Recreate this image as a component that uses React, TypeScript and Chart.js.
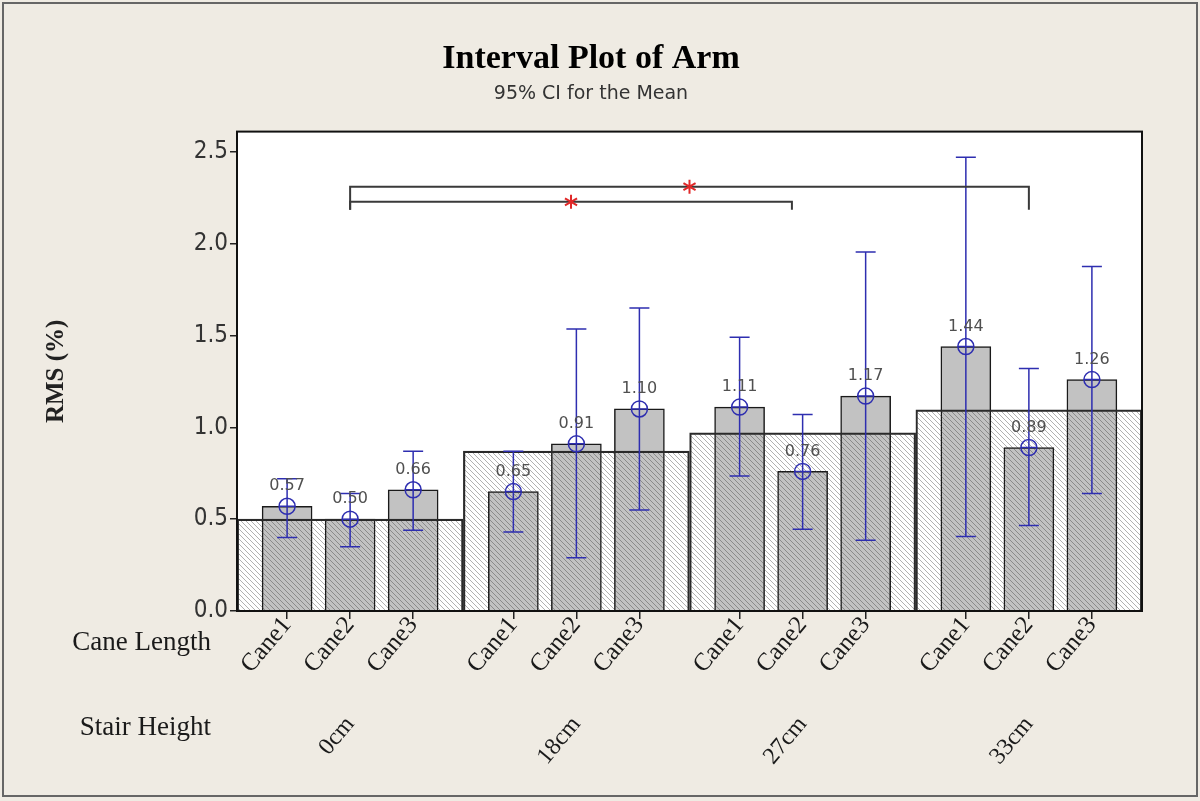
import React, { useEffect, useRef } from 'react';
import { Chart, registerables } from 'chart.js';

Chart.register(...registerables);

// ---------- data ----------
const stairHeights = ['0cm', '18cm', '27cm', '33cm'];
const caneLengths = ['Cane1', 'Cane2', 'Cane3'];
const meanValues = [0.57, 0.50, 0.66, 0.65, 0.91, 1.10, 1.11, 0.76, 1.17, 1.44, 0.89, 1.26];
const ciLower = [0.40, 0.35, 0.44, 0.43, 0.29, 0.55, 0.735, 0.445, 0.385, 0.405, 0.465, 0.64];
const ciUpper = [0.72, 0.64, 0.87, 0.87, 1.535, 1.65, 1.49, 1.07, 1.955, 2.47, 1.32, 1.875];
const stairMeans = [0.50, 0.87, 0.97, 1.095];
const yTicks = [0, 0.5, 1.0, 1.5, 2.0, 2.5];
const yMax = 2.61;
// significance brackets (bar index from / to, height)
const bracketFrom = [1, 1];
const bracketTo = [10, 7];
const bracketLevel = [2.31, 2.228];

// ---------- layout helpers ----------
const GROUP_SPAN = 3.59;
const xPositions = stairHeights.flatMap((_, g) => caneLengths.map((__, c) => g * GROUP_SPAN + c));
const groupCenters = stairHeights.map((_, g) => g * GROUP_SPAN + 1);
const xMin = 1 - GROUP_SPAN / 2;
const xMax = (stairHeights.length - 1) * GROUP_SPAN + 1 + GROUP_SPAN / 2;
const bracketEndShift = [0, -0.17];

const SERIF = "'Liberation Serif', 'Times New Roman', serif";
const NARROW = "'Liberation Sans Narrow', 'DejaVu Sans Condensed', 'Liberation Sans', sans-serif";
const BLUE = '#2e2eb0';

export default function App() {
  const ref = useRef<HTMLCanvasElement>(null);

  useEffect(() => {
    document.body.style.margin = '0';
    const canvas = ref.current!;
    const pc = document.createElement('canvas');
    const s = 5;
    pc.width = s;
    pc.height = s;
    const pctx = pc.getContext('2d')!;
    pctx.strokeStyle = 'rgba(50,50,50,0.38)';
    pctx.lineWidth = 1;
    for (const k of [-1, 0, 1]) {
      pctx.beginPath();
      pctx.moveTo(k * s, 0);
      pctx.lineTo(k * s + s, s);
      pctx.stroke();
    }
    const hatch = canvas.getContext('2d')!.createPattern(pc, 'repeat')!;

    const decor = {
      id: 'decor',
      beforeDraw(chart: any) {
        const { ctx, chartArea: a } = chart;
        ctx.save();
        ctx.fillStyle = '#efebe3';
        ctx.fillRect(0, 0, chart.width, chart.height);
        ctx.fillStyle = '#ffffff';
        ctx.fillRect(a.left, a.top, a.right - a.left, a.bottom - a.top);
        ctx.restore();
      },
      afterDatasetsDraw(chart: any) {
        const { ctx, chartArea: a } = chart;
        const xs = chart.scales.x;
        const ys = chart.scales.y;
        ctx.save();
        // error bars + means
        meanValues.forEach((m, i) => {
          const px = xs.getPixelForValue(xPositions[i]);
          const pm = ys.getPixelForValue(m);
          const pl = ys.getPixelForValue(ciLower[i]);
          const pu = ys.getPixelForValue(ciUpper[i]);
          ctx.strokeStyle = BLUE;
          ctx.lineWidth = 1.5;
          ctx.beginPath();
          ctx.moveTo(px, pu);
          ctx.lineTo(px, pl);
          ctx.moveTo(px - 10, pu);
          ctx.lineTo(px + 10, pu);
          ctx.moveTo(px - 10, pl);
          ctx.lineTo(px + 10, pl);
          ctx.moveTo(px - 8, pm);
          ctx.lineTo(px + 8, pm);
          ctx.stroke();
          ctx.beginPath();
          ctx.arc(px, pm, 8, 0, Math.PI * 2);
          ctx.stroke();
          ctx.fillStyle = '#505050';
          ctx.font = "16px 'DejaVu Sans', sans-serif";
          ctx.textAlign = 'center';
          ctx.textBaseline = 'middle';
          ctx.fillText(m.toFixed(2), px, pm - 20);
        });
        // significance brackets
        bracketFrom.forEach((f, k) => {
          const x1 = xs.getPixelForValue(xPositions[f]);
          const x2 = xs.getPixelForValue(xPositions[bracketTo[k]] + bracketEndShift[k]);
          const yl = ys.getPixelForValue(bracketLevel[k]);
          const yb = ys.getPixelForValue(2.184);
          ctx.strokeStyle = '#3a3a3a';
          ctx.lineWidth = 2;
          ctx.beginPath();
          ctx.moveTo(x1, yb);
          ctx.lineTo(x1, yl);
          ctx.lineTo(x2, yl);
          ctx.lineTo(x2, yb);
          ctx.stroke();
          const cx = (x1 + x2) / 2;
          ctx.strokeStyle = '#e02828';
          ctx.lineWidth = 2;
          ctx.beginPath();
          for (const ang of [90, 30, 150]) {
            const r = (ang * Math.PI) / 180;
            ctx.moveTo(cx - 7 * Math.cos(r), yl - 7 * Math.sin(r));
            ctx.lineTo(cx + 7 * Math.cos(r), yl + 7 * Math.sin(r));
          }
          ctx.stroke();
        });
        // plot frame
        ctx.strokeStyle = '#111';
        ctx.lineWidth = 2;
        ctx.strokeRect(a.left, a.top, a.right - a.left, a.bottom - a.top);
        ctx.restore();
      },
      afterDraw(chart: any) {
        const { ctx, chartArea: a } = chart;
        ctx.save();
        ctx.fillStyle = '#1a1a1a';
        ctx.font = `27px ${SERIF}`;
        ctx.textAlign = 'right';
        ctx.textBaseline = 'middle';
        ctx.fillText('Cane Length', a.left - 26, chart.scales.x.top + 32);
        ctx.fillText('Stair Height', a.left - 26, chart.scales.x2.top + 22);
        ctx.strokeStyle = '#666';
        ctx.lineWidth = 2;
        ctx.strokeRect(3, 3, chart.width - 6, chart.height - 8);
        ctx.restore();
      },
    };

    const chart = new Chart(canvas, {
      type: 'bar',
      data: {
        datasets: [
          {
            label: 'Stair Height',
            data: stairMeans.map((v, g) => ({ x: groupCenters[g], y: v })),
            backgroundColor: hatch,
            borderColor: '#2a2a2a',
            borderWidth: 1.5,
            barThickness: 226,
            grouped: false,
            order: 0,
          },
          {
            label: 'Cane Length',
            data: meanValues.map((v, i) => ({ x: xPositions[i], y: v })),
            backgroundColor: '#c2c2c2',
            borderColor: '#1a1a1a',
            borderWidth: 1.5,
            barThickness: 50,
            grouped: false,
            order: 1,
          },
        ] as any,
      },
      plugins: [decor],
      options: {
        animation: false,
        responsive: false,
        devicePixelRatio: 1,
        layout: { padding: { left: 40, right: 58, top: 0, bottom: 20 } },
        plugins: {
          legend: { display: false },
          tooltip: { enabled: false },
          title: {
            display: true,
            text: 'Interval Plot of Arm',
            color: '#000',
            font: { family: SERIF, size: 34, weight: 'bold' },
            padding: { top: 39, bottom: 0 },
          },
          subtitle: {
            display: true,
            text: '95% CI for the Mean',
            color: '#333',
            font: { family: "'DejaVu Sans', sans-serif", size: 19 },
            padding: { top: 3, bottom: 26 },
          },
        },
        scales: {
          x: {
            type: 'linear',
            position: 'bottom',
            weight: 0,
            offset: false,
            min: xMin,
            max: xMax,
            afterBuildTicks: (sc: any) => {
              sc.ticks = xPositions.map((v) => ({ value: v }));
            },
            afterFit: (sc: any) => {
              sc.height = 95;
            },
            ticks: {
              autoSkip: false,
              minRotation: 50,
              maxRotation: 50,
              padding: -8,
              color: '#1a1a1a',
              font: { family: SERIF, size: 25 },
              callback: (_v: any, i: number) => caneLengths[i % caneLengths.length],
            },
            grid: { offset: false, drawOnChartArea: false, drawTicks: true, tickLength: 8, color: '#222', lineWidth: 1.5 },
            border: { display: false },
          },
          x2: {
            type: 'linear',
            position: 'bottom',
            weight: 1,
            offset: false,
            min: xMin,
            max: xMax,
            afterBuildTicks: (sc: any) => {
              sc.ticks = groupCenters.map((v) => ({ value: v }));
            },
            afterFit: (sc: any) => {
              sc.height = 75;
            },
            ticks: {
              autoSkip: false,
              minRotation: 50,
              maxRotation: 50,
              padding: -3,
              color: '#1a1a1a',
              font: { family: SERIF, size: 24 },
              callback: (_v: any, i: number) => stairHeights[i],
            },
            grid: { display: false, offset: false },
            border: { display: false },
          },
          y: {
            type: 'linear',
            min: 0,
            max: yMax,
            afterBuildTicks: (sc: any) => {
              sc.ticks = yTicks.map((v) => ({ value: v }));
            },
            afterFit: (sc: any) => {
              sc.width = 197;
            },
            ticks: {
              padding: 2,
              color: '#333',
              font: { family: NARROW, size: 24 },
              callback: (v: any) => Number(v).toFixed(1),
            },
            grid: { drawOnChartArea: false, drawTicks: true, tickLength: 7, color: '#222', lineWidth: 1.5 },
            border: { display: false },
            title: {
              display: true,
              text: 'RMS (%)',
              color: '#222',
              font: { family: SERIF, size: 25, weight: 'bold' },
              padding: { top: 2, bottom: 2 },
            },
          },
        },
      } as any,
    });
    return () => chart.destroy();
  }, []);

  return (
    <div>
      <canvas ref={ref} width={1200} height={801} style={{ display: 'block' }} />
    </div>
  );
}
